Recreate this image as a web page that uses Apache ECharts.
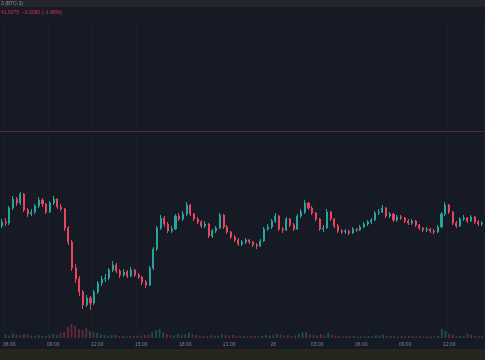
<!DOCTYPE html>
<html>
<head>
<meta charset="utf-8">
<script src="https://cdn.jsdelivr.net/npm/echarts@6/dist/echarts.min.js"></script>
<style>
html,body{margin:0;padding:0;background:#161a25;}
#c{width:485px;height:360px;}
</style>
</head>
<body>
<div id="c"></div>
<script>
// 15-minute candles, starting 05:45 (day 27) to 14:15 (day 28)
const startMinutes = 5 * 60 + 45;
const stepMinutes = 15;
const candleCount = 131;
const dayLabel = "28";

const opens = [41.14,41.18,41.17,41.32,41.41,41.37,41.46,41.30,41.26,41.28,41.34,41.40,41.36,41.28,41.37,41.41,41.33,41.31,41.12,40.98,
40.72,40.61,40.48,40.35,40.42,40.37,40.48,40.57,40.61,40.62,40.70,40.75,40.69,40.65,40.68,40.64,40.70,40.65,40.63,40.58,
40.55,40.72,40.91,41.12,41.22,41.16,41.09,41.11,41.24,41.21,41.26,41.35,41.26,41.21,41.18,41.14,41.16,41.04,41.09,41.12,
41.25,41.13,41.08,41.03,41.00,40.96,40.98,41.00,40.98,40.95,40.94,40.99,41.11,41.13,41.19,41.24,41.11,41.10,41.21,41.15,
41.11,41.24,41.28,41.37,41.32,41.27,41.21,41.11,41.12,41.28,41.21,41.14,41.09,41.08,41.09,41.07,41.11,41.10,41.13,41.16,
41.18,41.20,41.27,41.28,41.32,41.24,41.26,41.20,41.23,41.22,41.19,41.17,41.19,41.15,41.12,41.10,41.11,41.09,41.08,41.13,
41.26,41.35,41.28,41.17,41.14,41.21,41.22,41.19,41.23,41.18,41.16];
const closes = [41.18,41.17,41.32,41.41,41.37,41.46,41.30,41.26,41.28,41.34,41.40,41.36,41.28,41.37,41.41,41.33,41.31,41.12,40.98,40.72,
40.61,40.48,40.35,40.42,40.37,40.48,40.57,40.61,40.62,40.70,40.75,40.69,40.65,40.68,40.64,40.70,40.65,40.63,40.58,40.55,
40.72,40.91,41.12,41.22,41.16,41.09,41.11,41.24,41.21,41.26,41.35,41.26,41.21,41.18,41.14,41.16,41.04,41.09,41.12,41.25,
41.13,41.08,41.03,41.00,40.96,40.98,41.00,40.98,40.95,40.94,40.99,41.11,41.13,41.19,41.24,41.11,41.10,41.21,41.15,41.11,
41.24,41.28,41.37,41.32,41.27,41.21,41.11,41.12,41.28,41.21,41.14,41.09,41.08,41.09,41.07,41.11,41.10,41.13,41.16,41.18,
41.20,41.27,41.28,41.32,41.24,41.26,41.20,41.23,41.22,41.19,41.17,41.19,41.15,41.12,41.10,41.11,41.09,41.08,41.13,41.26,
41.35,41.28,41.17,41.14,41.21,41.22,41.19,41.23,41.18,41.16,41.17];
const highs = [41.21,41.22,41.34,41.44,41.43,41.48,41.47,41.32,41.31,41.36,41.43,41.42,41.37,41.39,41.44,41.42,41.36,41.32,41.14,41.00,
40.76,40.64,40.50,40.45,40.44,40.50,40.59,40.64,40.66,40.72,40.79,40.77,40.71,40.71,40.70,40.73,40.71,40.67,40.64,40.60,
40.74,40.93,41.14,41.25,41.24,41.18,41.14,41.26,41.27,41.29,41.38,41.36,41.27,41.23,41.20,41.19,41.17,41.11,41.14,41.27,
41.26,41.15,41.09,41.05,41.02,41.00,41.02,41.01,40.99,40.97,41.01,41.13,41.16,41.21,41.27,41.25,41.13,41.23,41.22,41.17,
41.26,41.31,41.40,41.38,41.34,41.28,41.22,41.15,41.31,41.29,41.22,41.16,41.11,41.11,41.10,41.13,41.12,41.15,41.18,41.20,
41.22,41.29,41.31,41.35,41.33,41.28,41.27,41.25,41.25,41.23,41.21,41.21,41.20,41.16,41.13,41.13,41.12,41.11,41.15,41.28,
41.38,41.36,41.29,41.19,41.23,41.25,41.23,41.25,41.24,41.20,41.19];
const lows = [41.12,41.14,41.15,41.30,41.34,41.35,41.28,41.23,41.24,41.26,41.32,41.33,41.26,41.27,41.35,41.31,41.29,41.09,40.95,40.69,
40.57,40.44,40.31,40.33,40.30,40.35,40.46,40.54,40.58,40.60,40.68,40.67,40.62,40.63,40.62,40.63,40.63,40.61,40.55,40.52,
40.54,40.70,40.89,41.10,41.13,41.07,41.07,41.10,41.19,41.19,41.24,41.24,41.19,41.16,41.12,41.12,41.02,41.02,41.07,41.11,
41.11,41.06,41.01,40.98,40.94,40.94,40.96,40.96,40.93,40.91,40.93,40.98,41.09,41.11,41.17,41.09,41.07,41.09,41.13,41.09,
41.10,41.22,41.26,41.30,41.25,41.19,41.09,41.08,41.11,41.19,41.12,41.07,41.06,41.06,41.05,41.06,41.08,41.09,41.12,41.14,
41.16,41.19,41.25,41.27,41.22,41.22,41.18,41.18,41.20,41.17,41.15,41.15,41.13,41.10,41.08,41.08,41.07,41.06,41.07,41.12,
41.24,41.26,41.15,41.12,41.13,41.19,41.17,41.18,41.16,41.14,41.14];
const volumes = [18,12,22,15,14,20,18,12,10,14,12,10,15,20,14,25,30,55,70,60,
45,40,50,35,30,25,18,15,12,14,16,10,12,8,10,9,11,12,15,18,
30,40,45,28,20,16,12,22,14,18,25,20,15,12,10,9,14,10,11,18,
14,12,15,10,12,9,8,10,12,9,11,15,12,14,20,18,12,14,10,12,
22,28,30,18,14,12,20,14,25,15,12,10,8,9,8,10,7,9,8,10,
9,14,12,18,12,10,9,8,9,8,10,9,8,9,8,7,8,9,12,45,
35,20,15,12,10,9,22,14,10,9,8];
const priceLine = 42.085;
const headerText = "3 (BTC-3)";
const legendText = "41.5075  \u22120.0080 (\u22121.88%)";

const UP = '#26a69a', DOWN = '#e8455f';

const categories = [];
for (let i = 0; i < candleCount; i++) {
  const m = (startMinutes + i * stepMinutes) % (24 * 60);
  const h = Math.floor(m / 60), mm = m % 60;
  categories.push((h < 10 ? '0' : '') + h + ':' + (mm < 10 ? '0' : '') + mm);
}
const isTick = (idx) => {
  const c = categories[idx];
  if (!c) return false;
  const h = parseInt(c.slice(0, 2), 10), mm = parseInt(c.slice(3), 10);
  return mm === 0 && h % 3 === 0;
};
const fmtTick = (v) => v === '00:00' ? dayLabel : v;

const ohlc = opens.map((o, i) => [o, closes[i], lows[i], highs[i]]);
const volData = volumes.map((v, i) => ({
  value: v,
  itemStyle: { color: closes[i] >= opens[i] ? 'rgba(38,166,154,0.38)' : 'rgba(232,69,95,0.38)' }
}));

const chart = echarts.init(document.getElementById('c'), null, { renderer: 'canvas' });
chart.setOption({
  backgroundColor: '#161a25',
  animation: false,
  graphic: [
    { type: 'rect', left: 0, top: 0, shape: { width: 485, height: 7 }, style: { fill: '#23252c' }, z: 10 },
    { type: 'rect', left: 0, top: 349, shape: { width: 485, height: 11 }, style: { fill: '#27251f' }, z: 10 },
    { type: 'text', left: 1, top: 1, style: { text: headerText, fill: '#8c8f98', font: '5px "Liberation Sans", sans-serif' }, z: 11 },
    { type: 'text', left: 1, top: 10, style: { text: legendText, fill: '#d8344f', font: '5px "Liberation Sans", sans-serif' }, z: 11 }
  ],
  grid: [
    { left: -3, right: 1, top: 20, height: 320 },
    { left: -3, right: 1, top: 318, height: 20 }
  ],
  xAxis: [
    {
      type: 'category', data: categories, gridIndex: 0, boundaryGap: true,
      axisLine: { show: false }, axisTick: { show: false }, axisLabel: { show: false },
      splitLine: { show: true, interval: (idx) => isTick(idx), lineStyle: { color: 'rgba(42,46,57,0.22)', width: 1 } }
    },
    {
      type: 'category', data: categories, gridIndex: 1, boundaryGap: true,
      axisLine: { show: false }, axisTick: { show: false },
      axisLabel: { show: true, interval: (idx) => isTick(idx), formatter: fmtTick, fontSize: 5, color: '#7f828c', margin: 4, fontFamily: 'Liberation Sans' },
      splitLine: { show: false }
    }
  ],
  yAxis: [
    { type: 'value', gridIndex: 0, min: 40, max: 43.2, show: false, scale: true },
    { type: 'value', gridIndex: 1, min: 0, max: 100, show: false }
  ],
  series: [
    {
      type: 'candlestick', xAxisIndex: 0, yAxisIndex: 0, data: ohlc,
      barWidth: '42%', z: 2,
      itemStyle: { color: UP, color0: DOWN, borderColor: UP, borderColor0: DOWN, borderWidth: 1 },
      markLine: {
        symbol: ['none', 'none'], silent: true, label: { show: false },
        emphasis: { disabled: true },
        lineStyle: { color: '#5a2140', opacity: 1, width: 1, type: 'solid' },
        data: [{ yAxis: priceLine, lineStyle: { color: '#5a2140', type: 'solid', width: 1, opacity: 1 } }]
      }
    },
    {
      type: 'bar', xAxisIndex: 1, yAxisIndex: 1, data: volData, barWidth: '50%'
    }
  ]
});
</script>
</body>
</html>
